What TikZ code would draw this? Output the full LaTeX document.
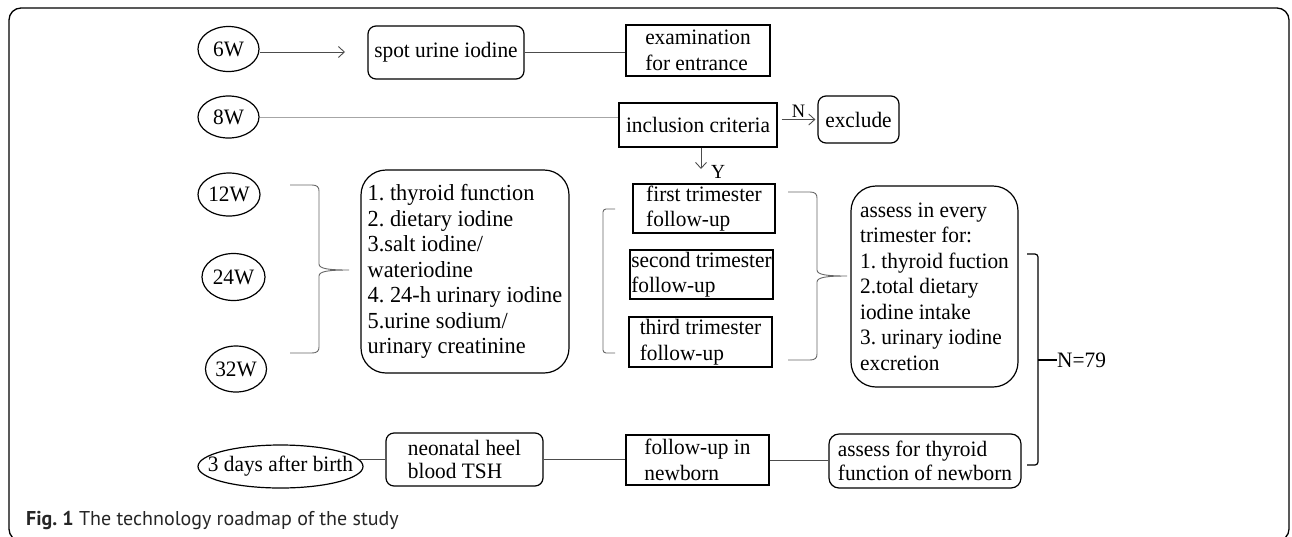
\documentclass[tikz,border=0pt]{standalone}
\usepackage{fontspec}
\setmainfont[FakeStretch=0.97]{Liberation Serif}
\newfontfamily\capfont{PT Sans}
\usetikzlibrary{shapes.geometric,arrows.meta}
\frenchspacing
\tikzset{
  txt/.style={font=\fontsize{22}{25.5}\selectfont},
  base/.style={txt, inner sep=0pt, line width=1.2pt, draw, align=left},
  ell/.style={base, ellipse},
  rbox/.style={base, rounded corners=8pt},
  sbox/.style={base},
  conn/.style={line width=0.9pt, draw=black!70},
  arr/.style={conn, -{Straight Barb[length=6pt, width=11pt]}},
  brace/.style={line width=0.9pt, draw=black!60},
  every label/.style={txt, inner sep=0pt},
}
\begin{document}
\begin{tikzpicture}[x=1pt,y=-1pt]
\useasboundingbox (0,0) rectangle (1292,536);
\draw[line width=1.3pt, rounded corners=12] (9,8) rectangle (1289,541);

% ellipses
\node[ell, minimum width=61, minimum height=45, label=center:6W] (w6) at (228.5,49) {};
\node[ell, minimum width=61, minimum height=42, label=center:8W] (w8) at (228.5,117) {};
\node[ell, minimum width=62, minimum height=43, label=center:12W] (w12) at (229,194.5) {};
\node[ell, minimum width=63, minimum height=47, label=center:24W] (w24) at (233.5,277) {};
\node[ell, minimum width=61, minimum height=46, label=center:32W] (w32) at (236,369) {};
\node[ell, minimum width=165, minimum height=43, label=center:3 days after birth] (days) at (280.5,466.5) {};

% boxes
\node[rbox, minimum width=156, minimum height=53] (spot) at (446,52.5) {spot urine iodine};
\node[sbox, minimum width=144, minimum height=51] (exam) at (698,50.5) {examination\\for entrance};
\node[sbox, minimum width=158, minimum height=44] (incl) at (698,125) {inclusion criteria};
\node[rbox, minimum width=81, minimum height=47] (excl) at (858.5,119.5) {exclude};
\node[base, rounded corners=25, minimum width=208, minimum height=203,
      font=\fontsize{23}{25.5}\selectfont] (list) at (465,271.5)
  {1. thyroid function\\2. dietary iodine\\3.salt iodine/\\wateriodine\\4. 24-h urinary iodine\\5.urine sodium/\\urinary creatinine};
\node[sbox, minimum width=142, minimum height=49] (first) at (704,208.5) {first trimester\\follow-up};
\node[sbox, minimum width=143, minimum height=49] (second) at (701.5,274.5) {second trimester\\follow-up};
\node[sbox, minimum width=143, minimum height=50] (third) at (700.5,342) {third trimester\\follow-up};
\node[base, rounded corners=25, minimum width=167, minimum height=201] (assess) at (934.5,286.5)
  {assess in every\\trimester for:\\1. thyroid fuction\\2.total dietary\\iodine intake\\3. urinary iodine\\excretion};
\node[rbox, minimum width=157, minimum height=53, font=\fontsize{22}{23.5}\selectfont] (neo) at (464.5,459.5) {neonatal heel\\blood TSH};
\node[sbox, minimum width=143, minimum height=50] (follow) at (697.5,460) {follow-up in\\newborn};
\node[base, rounded corners=10, minimum width=192, minimum height=54, font=\fontsize{22}{23.5}\selectfont] (assessnb) at (925,461) {assess for thyroid\\function of newborn};

% connectors, top rows
\coordinate (a6) at (345,52);
\draw[arr] (w6.east |- a6) -- (a6);
\draw[conn] (spot.east) -- (spot.east -| exam.west);
\draw[line width=0.8pt, draw=black!35] (w8.east) -- (w8.east -| incl.west);
\draw[arr] ([xshift=4]incl.east |- excl.west) -- ([xshift=-2]excl.west)
  node[midway, above, font=\fontsize{19}{19}\selectfont, inner sep=2pt] (nlab) {N};
\coordinate (ya) at (701,169);
\draw[arr] (incl.south -| ya) -- (ya);
\node[font=\fontsize{20}{20}\selectfont, anchor=west, inner sep=0pt] (ylab) at (711,172) {Y};

% bottom row
\draw[conn] (days.5) -- (days.5 -| neo.west);
\draw[conn] (neo.east) -- (neo.east -| follow.west);
\draw[conn] (follow.east) -- (follow.east -| assessnb.west);

% braces
\draw[brace] (290,185) -- (312,185) .. controls (317,185) and (319,187) .. (319,191) -- (319,264)
  .. controls (319,269) and (330,270) .. (349,270) .. controls (330,270) and (319,271) .. (319,276)
  -- (319,347) .. controls (319,351) and (317,353) .. (312,353) -- (290,353);
\draw[brace, rounded corners=3] (615,209) -- (603,209) -- (603,353) -- (615,353);
\draw[brace] (788,192) -- (810,192) .. controls (815,192) and (817,194) .. (817,198) -- (817,270)
  .. controls (817,275) and (828,276) .. (847,276) .. controls (828,276) and (817,277) .. (817,282)
  -- (817,354) .. controls (817,358) and (815,360) .. (810,360) -- (788,360);

% N=79 bracket
\node[anchor=west, txt, inner sep=0pt] (nn) at (1057,360) {N=79};
\coordinate (bt) at (1038,254);
\coordinate (bb) at (1038,465);
\draw[line width=1.2pt, rounded corners=3] (1027,254) -- (bt) -- (bb) -- (1027,465);
\draw[line width=1.2pt] (bt |- nn.west) -- (nn.west);

% caption
\node[anchor=base west, inner sep=0pt, font=\capfont\fontsize{20}{24}\selectfont, text=black!85] (cap) at (26,525)
  {\textbf{Fig. 1} The technology roadmap of the study};
\end{tikzpicture}
\end{document}
